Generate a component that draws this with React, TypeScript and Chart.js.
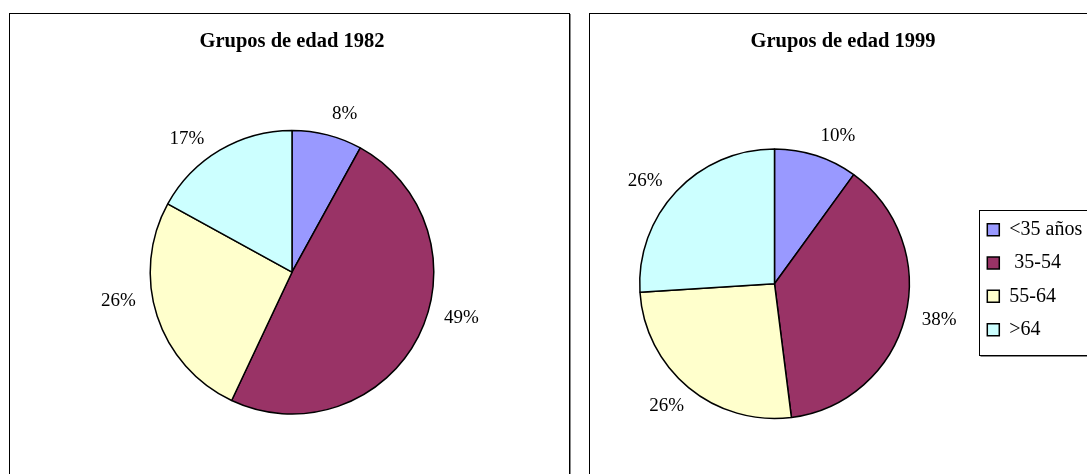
import React, { useEffect, useRef } from "react";
import { Chart, registerables } from "chart.js";

Chart.register(...registerables);

// ---- data ----
const categories = ["<35 años", " 35-54", "55-64", ">64"];
const values1982 = [8, 49, 26, 17];
const values1999 = [10, 38, 26, 26];
const title1982 = "Grupos de edad 1982";
const title1999 = "Grupos de edad 1999";
const sliceColors = ["#9999FF", "#993366", "#FFFFCC", "#CCFFFF"];

// small angular nudges (degrees) for the outside percentage labels (style only)
const labelNudge1982 = [3.5, -11, 8, -6];
const labelNudge1999 = [4, -1, 0, -3];

const SERIF = '"Liberation Serif", "Times New Roman", Times, serif';

// percentage labels placed outside each slice, around the slice's mid angle
const percentLabels = {
  id: "percentLabels",
  afterDatasetsDraw(chart: any, _args: any, opts: any) {
    const ctx = chart.ctx;
    const meta = chart.getDatasetMeta(0);
    const data = chart.data.datasets[0].data as number[];
    const total = data.reduce((s: number, v: number) => s + v, 0);
    const nudge: number[] = (opts && opts.nudge) || [];
    ctx.save();
    ctx.font = `19px ${SERIF}`;
    ctx.fillStyle = "#000";
    ctx.textAlign = "center";
    ctx.textBaseline = "middle";
    meta.data.forEach((arc: any, i: number) => {
      const p = arc.getProps(["x", "y", "startAngle", "endAngle", "outerRadius"], true);
      const a = (p.startAngle + p.endAngle) / 2 + ((nudge[i] || 0) * Math.PI) / 180;
      const text = `${Math.round((data[i] / total) * 100)}%`;
      const hw = ctx.measureText(text).width / 2;
      const hh = 7;
      const d = p.outerRadius + 17;
      ctx.fillText(text, p.x + Math.cos(a) * (d + hw), p.y + Math.sin(a) * (d + hh));
    });
    ctx.restore();
  },
};

// fixed legend width, small vertical shift, and framed legend box
const legendFrame = {
  id: "legendFrame",
  beforeLayout(chart: any, _args: any, opts: any) {
    const lg = chart.legend;
    if (!lg || lg.__fitWrapped) return;
    const w = opts && opts.legendWidth;
    const orig = lg.fit.bind(lg);
    lg.fit = () => {
      orig();
      if (w && lg.options.display) lg.width = w;
    };
    lg.__fitWrapped = true;
  },
  afterLayout(chart: any, _args: any, opts: any) {
    const lg = chart.legend;
    const s = (opts && opts.shiftY) || 0;
    if (lg && s) {
      lg.top += s;
      lg.bottom += s;
    }
  },
  afterDraw(chart: any) {
    const lg = chart.legend;
    if (!lg || !lg.options.display || !lg.legendHitBoxes || !lg.legendHitBoxes.length) return;
    const hb = lg.legendHitBoxes;
    const f = hb[0];
    const l = hb[hb.length - 1];
    const x0 = Math.round(f.left - 8) + 0.5;
    const y0 = Math.round(f.top - 10) + 0.5;
    const y1 = Math.round(l.top + l.height + 15) + 0.5;
    const x1 = chart.width + 5;
    const ctx = chart.ctx;
    ctx.save();
    ctx.lineWidth = 1;
    ctx.strokeStyle = "#888";
    ctx.beginPath();
    ctx.moveTo(x0 + 1, y1 + 1);
    ctx.lineTo(x1, y1 + 1);
    ctx.stroke();
    ctx.strokeStyle = "#000";
    ctx.strokeRect(x0, y0, x1 - x0, y1 - y0);
    ctx.restore();
  },
};

type PieProps = {
  title: string;
  values: number[];
  nudge: number[];
  left: number;
  top: number;
  width: number;
  height: number;
  padding: any;
  titlePadding: any;
  showLegend: boolean;
  legendWidth?: number;
  legendShiftY?: number;
};

function AgePie(props: PieProps) {
  const ref = useRef<HTMLCanvasElement>(null);
  useEffect(() => {
    const chart = new Chart(ref.current as HTMLCanvasElement, {
      type: "pie",
      data: {
        labels: categories,
        datasets: [
          {
            data: props.values,
            backgroundColor: sliceColors,
            borderColor: "#000",
            borderWidth: 1.5,
          },
        ],
      },
      options: {
        responsive: false,
        animation: false,
        events: [],
        layout: { padding: props.padding },
        plugins: {
          title: {
            display: true,
            text: props.title,
            color: "#000",
            font: { family: SERIF, size: 20.5, weight: "bold" },
            padding: props.titlePadding,
          },
          legend: {
            display: props.showLegend,
            position: "right",
            fullSize: false,
            labels: {
              color: "#000",
              font: { family: SERIF, size: 20 },
              boxWidth: 12,
              boxHeight: 12,
              padding: 13.3,
            },
          },
          tooltip: { enabled: false },
          percentLabels: { nudge: props.nudge },
          legendFrame: { legendWidth: props.legendWidth, shiftY: props.legendShiftY },
        } as any,
      },
      plugins: [percentLabels, legendFrame],
    });
    return () => chart.destroy();
  }, []);
  return (
    <canvas
      ref={ref}
      width={props.width}
      height={props.height}
      style={{
        position: "absolute",
        left: props.left,
        top: props.top,
        width: props.width,
        height: props.height,
      }}
    />
  );
}

const panel = (left: number, top: number, width: number): React.CSSProperties => ({
  position: "absolute",
  left,
  top,
  width,
  height: 520,
  boxSizing: "border-box",
  border: "1px solid #000",
  boxShadow: "1px 1px 0 #888",
  background: "#fff",
});

export default function App() {
  return (
    <div
      style={{
        position: "fixed",
        left: 0,
        top: 0,
        width: 1087,
        height: 474,
        overflow: "hidden",
        background: "#fff",
      }}
    >
      <div style={panel(9, 13, 561)} />
      <div style={panel(589, 13, 620)} />
      <AgePie
        title={title1982}
        values={values1982}
        nudge={labelNudge1982}
        left={11}
        top={15}
        width={556}
        height={459}
        padding={{ left: 6, right: 0, top: 0, bottom: 59.25 }}
        titlePadding={{ top: 14, bottom: 76.05 }}
        showLegend={false}
      />
      <AgePie
        title={title1999}
        values={values1999}
        nudge={labelNudge1999}
        left={575}
        top={15}
        width={536}
        height={459}
        padding={{ left: 0, right: 0, top: 0, bottom: 54.75 }}
        titlePadding={{ top: 14, bottom: 94.55 }}
        showLegend={true}
        legendWidth={137}
        legendShiftY={-4}
      />
    </div>
  );
}
